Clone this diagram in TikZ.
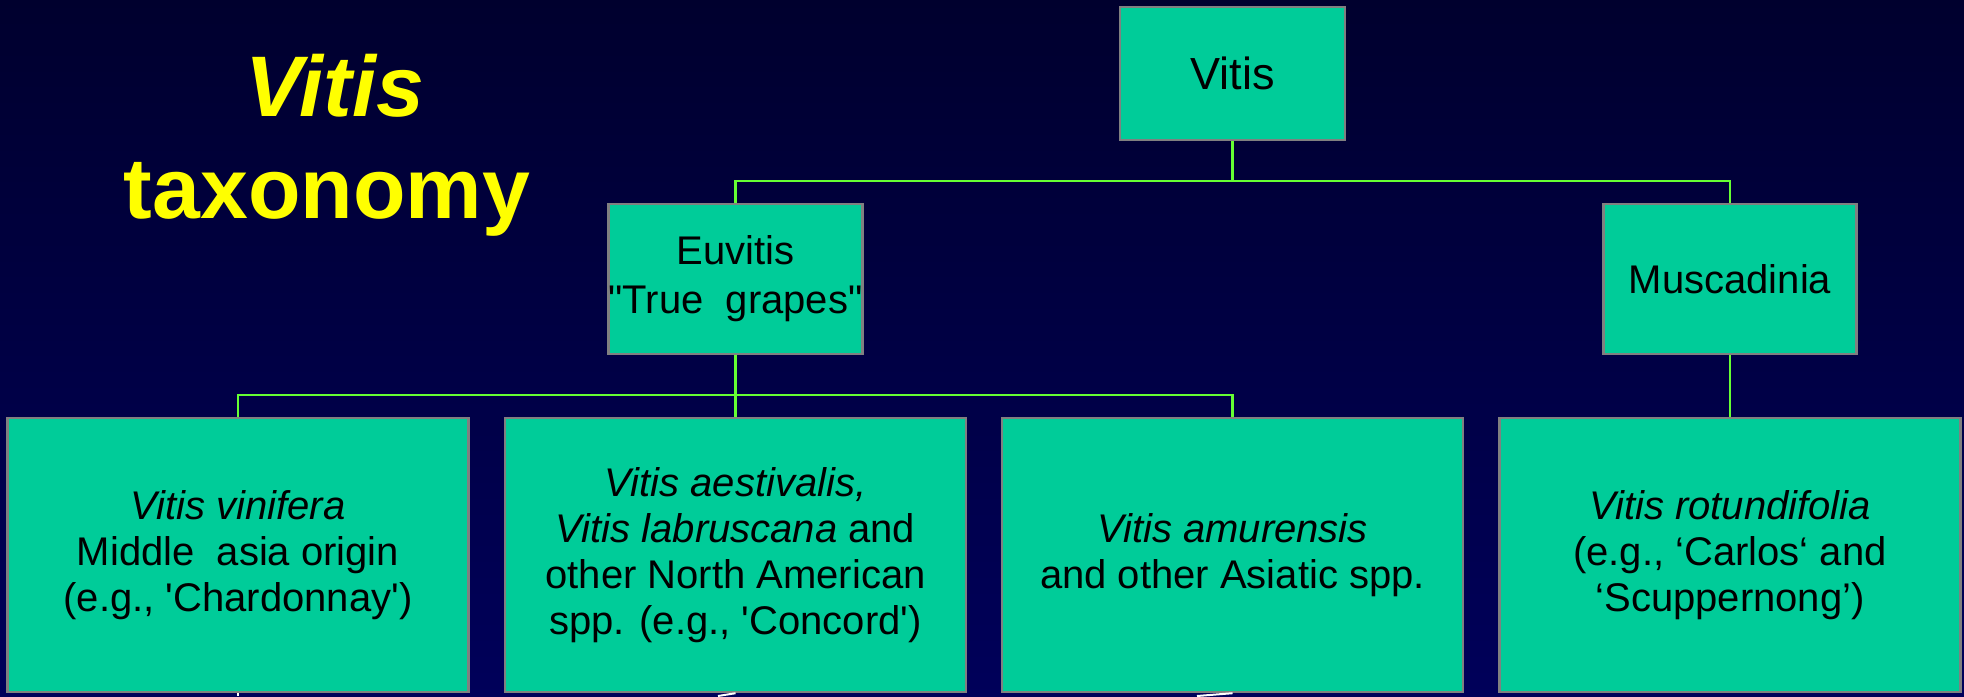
\documentclass[tikz,border=0pt]{standalone}
\usepackage{fontspec}
\setmainfont{Liberation Sans}
\definecolor{bgtop}{RGB}{0,0,46}
\definecolor{bgbot}{RGB}{0,0,90}
\definecolor{boxfill}{HTML}{00CC99}
\definecolor{boxline}{HTML}{808080}
\definecolor{conncol}{HTML}{66FF33}
\definecolor{titlecol}{HTML}{FFFF00}
\tikzset{
  taxbox/.style={draw=boxline, line width=1.2pt, fill=boxfill, rectangle, align=center, inner sep=0pt, text=black},
  bigbox/.style={taxbox, minimum width=230.5pt, minimum height=137pt, font=\fontsize{20pt}{23pt}\selectfont},
  midbox/.style={taxbox, minimum width=126.5pt, minimum height=75pt, font=\fontsize{20pt}{24.5pt}\selectfont},
  conn/.style={draw=conncol, line width=1.2pt},
  cutline/.style={draw=white, line width=1pt},
  titletext/.style={text=titlecol, font=\fontsize{43pt}{51pt}\selectfont\bfseries, inner sep=0pt, anchor=base}
}
\begin{document}
\begin{tikzpicture}[x=0.5pt, y=-0.5pt]
\useasboundingbox (0,0) rectangle (1964,696);
\shade[top color=bgtop, bottom color=bgbot] (0,0) rectangle (1964,696);

\node[titletext] (t1) at (335,116) {\itshape Vitis};
\node[titletext] (t2) at (327,218) {taxonomy};

\node[taxbox, minimum width=112.5pt, minimum height=66.5pt, font=\fontsize{22.5pt}{26pt}\selectfont] (vitis) at (1232.5,73.5) {Vitis};
\node[midbox] (euv) at (735.5,279) {Euvitis\\\textquotedbl True~ grapes\textquotedbl};
\node[midbox] (mus) at (1730,279) {Muscadinia};

\node[bigbox] (b1) at (238,555) {\textit{Vitis vinifera}\\Middle~ asia origin\\(e.g., \textquotesingle Chardonnay\textquotesingle)};
\node[bigbox] (b2) at (735.5,555) {\textit{Vitis aestivalis,}\\\textit{Vitis labruscana} and\\other North American\\spp. (e.g., \textquotesingle Concord\textquotesingle)};
\node[bigbox] (b3) at (1232.5,555) {\textit{Vitis amurensis}\\and other Asiatic spp.};
\node[bigbox] (b4) at (1730,555) {\textit{Vitis rotundifolia}\\(e.g., ‘Carlos‘ and\\‘Scuppernong’)};

\coordinate (busA) at (1232.5,181);
\coordinate (busB) at (735.5,395);
\draw[conn] (vitis.south) -- (busA);
\draw[conn] (euv.north) |- (busA) -| (mus.north);
\draw[conn] (euv.south) -- (busB);
\draw[conn] (b1.north) |- (busB) -| (b3.north);
\draw[conn] (busB) -- (b2.north);
\draw[conn] (mus.south) -- (b4.north);

\coordinate (c1) at (238,696);
\coordinate (c2) at (718,696);
\coordinate (c3) at (1197,696);
\draw[cutline] (b1.south) -- (c1);
\draw[cutline] (b2.south) -- (c2);
\draw[cutline] (b3.south) -- (c3);
\end{tikzpicture}
\end{document}
